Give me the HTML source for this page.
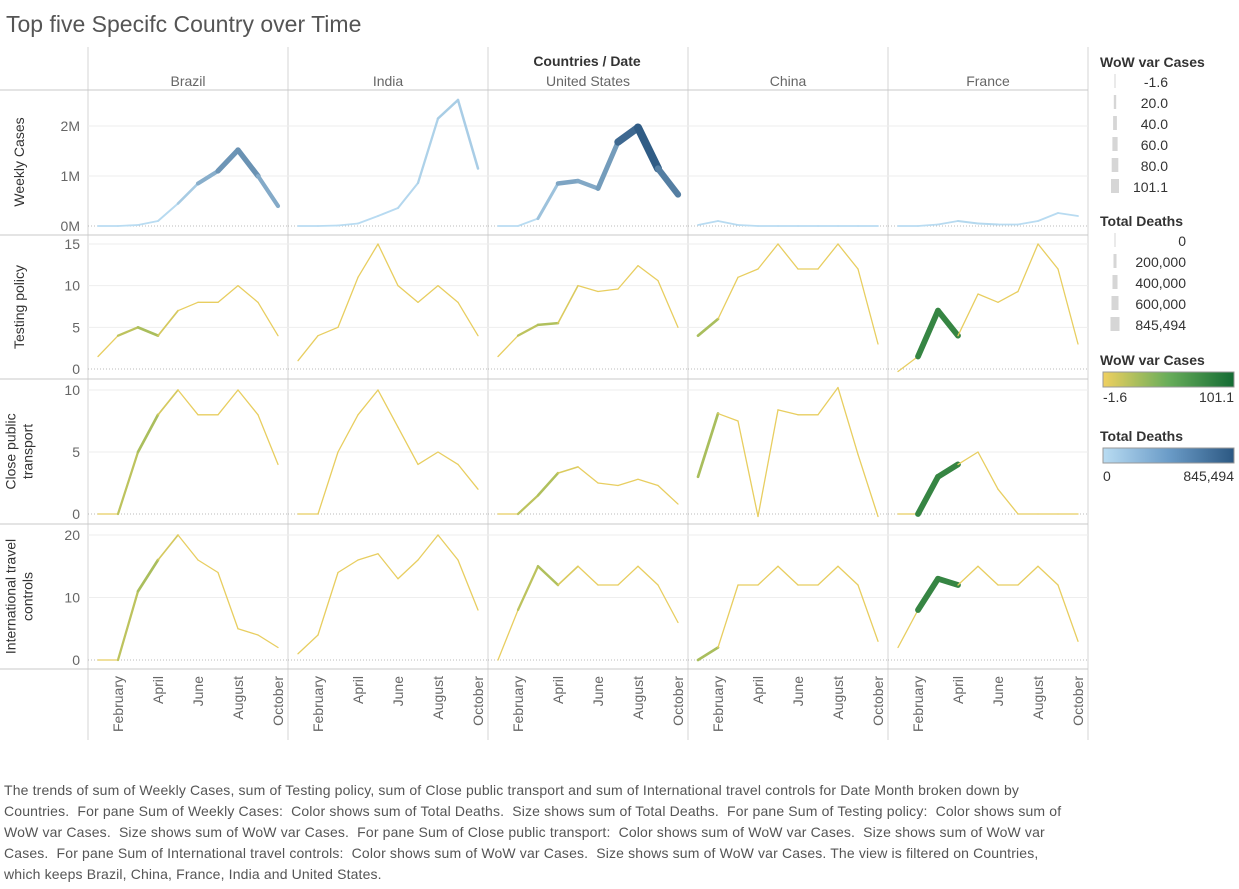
<!DOCTYPE html>
<html><head><meta charset="utf-8">
<style>
body{margin:0;background:#fff;width:1239px;height:884px;overflow:hidden;font-family:"Liberation Sans",sans-serif;}
svg text{font-family:"Liberation Sans",sans-serif;}
</style></head>
<body>
<svg id="chart" width="1239" height="884">
<text x="6" y="32" font-size="23" fill="#555">Top five Specifc Country over Time</text>
<text x="587" y="66" font-size="14" font-weight="bold" fill="#333" text-anchor="middle">Countries  /  Date</text>
<g id="grid"></g>
<g id="marks"></g>
<g id="legend">
  <text x="1100" y="67" font-size="14" font-weight="bold" fill="#333">WoW var Cases</text>
  <text x="1100" y="226" font-size="14" font-weight="bold" fill="#333">Total Deaths</text>
  <text x="1100" y="365" font-size="14" font-weight="bold" fill="#333">WoW var Cases</text>
  <defs>
    <linearGradient id="gy"><stop offset="0" stop-color="#f0d060"/><stop offset="0.5" stop-color="#68ad5a"/><stop offset="1" stop-color="#146b34"/></linearGradient>
    <linearGradient id="gb"><stop offset="0" stop-color="#b9dcf2"/><stop offset="0.5" stop-color="#6b9cc8"/><stop offset="1" stop-color="#2c5882"/></linearGradient>
  </defs>
  <rect x="1103" y="372" width="131" height="15" fill="url(#gy)" stroke="#999"/>
  <text x="1103" y="402" font-size="14" fill="#333">-1.6</text>
  <text x="1234" y="402" font-size="14" fill="#333" text-anchor="end">101.1</text>
  <text x="1100" y="441" font-size="14" font-weight="bold" fill="#333">Total Deaths</text>
  <rect x="1103" y="448" width="131" height="15" fill="url(#gb)" stroke="#999"/>
  <text x="1103" y="481" font-size="14" fill="#333">0</text>
  <text x="1234" y="481" font-size="14" fill="#333" text-anchor="end">845,494</text>
</g>
</svg>
<div style="position:absolute;left:4px;top:780px;width:1068px;font-size:14px;letter-spacing:0.15px;line-height:21px;color:#555;">The trends of sum of Weekly Cases, sum of Testing policy, sum of Close public transport and sum of International travel controls for Date Month broken down by Countries.&nbsp; For pane Sum of Weekly Cases:&nbsp; Color shows sum of Total Deaths.&nbsp; Size shows sum of Total Deaths.&nbsp; For pane Sum of Testing policy:&nbsp; Color shows sum of WoW var Cases.&nbsp; Size shows sum of WoW var Cases.&nbsp; For pane Sum of Close public transport:&nbsp; Color shows sum of WoW var Cases.&nbsp; Size shows sum of WoW var Cases.&nbsp; For pane Sum of International travel controls:&nbsp; Color shows sum of WoW var Cases.&nbsp; Size shows sum of WoW var Cases. The view is filtered on Countries, which keeps Brazil, China, France, India and United States.</div>
<script>
const countries=["Brazil","India","United States","China","France"];
const monthLabels=["February","April","June","August","October"];
const monthIdx=[1,3,5,7,9];
const cases={Brazil:[0,0,0.02,0.1,0.45,0.85,1.1,1.52,1.0,0.4],India:[0,0,0.01,0.05,0.2,0.36,0.86,2.15,2.52,1.15],"United States":[0,0,0.15,0.85,0.9,0.75,1.68,1.97,1.15,0.63],China:[0.02,0.1,0.02,0,0,0,0,0,0,0],France:[0,0,0.03,0.1,0.05,0.03,0.03,0.1,0.26,0.2]};
const deaths={Brazil:[0,0,0,1000,20000,180000,350000,480000,380000,200000],India:[0,0,0,1000,5000,15000,40000,80000,100000,70000],"United States":[0,0,100,300000,350000,250000,500000,845494,650000,450000],China:[1000,5000,3000,100,0,0,0,0,0,0],France:[0,0,2000,20000,30000,10000,2000,2000,5000,8000]};
const testing={Brazil:[1.5,4,5,4,7,8,8,10,8,4],India:[1,4,5,11,15,10,8,10,8,4],"United States":[1.5,4,5.3,5.5,10,9.3,9.6,12.4,10.6,5],China:[4,6,11,12,15,12,12,15,12,3],France:[-0.3,1.5,7,4,9,8,9.3,15,12,3]};
const transport={Brazil:[0,0,5,8,10,8,8,10,8,4],India:[0,0,5,8,10,7,4,5,4,2],"United States":[0,0,1.5,3.3,3.8,2.5,2.3,2.8,2.3,0.8],China:[3,8.1,7.5,-0.2,8.4,8,8,10.2,4.8,-0.2],France:[0,0,3,4,5,2,0,0,0,0]};
const travel={Brazil:[0,0,11,16,20,16,14,5,4,2],India:[1,4,14,16,17,13,16,20,16,8],"United States":[0,8,15,12,15,12,12,15,12,6],China:[0,2,12,12,15,12,12,15,12,3],France:[2,8,13,12,15,12,12,15,12,3]};
const wow={Brazil:[-1.6,-1.6,20,8,-1.6,-1.6,-1.6,-1.6,-1.6,-1.6],India:[-1.6,-1.6,-1.6,-1.6,-1.6,-1.6,-1.6,-1.6,-1.6,-1.6],"United States":[-1.6,-1.6,20,5,-1.6,-1.6,-1.6,-1.6,-1.6,-1.6],China:[30,-1.6,-1.6,-1.6,-1.6,-1.6,-1.6,-1.6,-1.6,-1.6],France:[-1.6,-1.6,101.1,-1.6,-1.6,-1.6,-1.6,-1.6,-1.6,-1.6]};
const rowNames=["Weekly Cases","Testing policy","Close public transport","International travel controls"];
const rowTicks=[[0,1,2],[0,5,10,15],[0,5,10],[0,10,20]];
const rowTickLabels=[["0M","1M","2M"],["0","5","10","15"],["0","5","10"],["0","10","20"]];

const NS="http://www.w3.org/2000/svg";
const svg=document.getElementById("chart"),grid=document.getElementById("grid"),marks=document.getElementById("marks");
function el(t,a,p){const e=document.createElementNS(NS,t);for(const k in a)e.setAttribute(k,a[k]);(p||grid).appendChild(e);return e;}
const colX0=88,colW=200;
const rows=[{top:90,bot:234,y0:226,y1:126,v1:2},{top:236,bot:378,y0:369,y1:244,v1:15},{top:380,bot:523,y0:514,y1:390,v1:10},{top:525,bot:668,y0:660,y1:535,v1:20}];
function xScale(c,i){return colX0+c*colW+10+i*20;}
function yScale(r,v){const R=rows[r];return R.y0+(R.y1-R.y0)*v/R.v1;}
function lerp(a,b,t){return Math.round(a+(b-a)*t);}
function blue(t){const a=[185,220,242],b=[44,88,130];return `rgb(${lerp(a[0],b[0],t)},${lerp(a[1],b[1],t)},${lerp(a[2],b[2],t)})`;}
function green(t){let a,b,u;if(t<0.5){a=[232,206,96];b=[104,173,90];u=t*2}else{a=[104,173,90];b=[20,107,52];u=(t-0.5)*2}return `rgb(${lerp(a[0],b[0],u)},${lerp(a[1],b[1],u)},${lerp(a[2],b[2],u)})`;}

for(let c=0;c<=5;c++){const l=el("line",{x1:colX0+c*colW,y1:47,x2:colX0+c*colW,y2:740,stroke:"#d4d4d4"});

}
el("line",{x1:0,y1:90,x2:1088,y2:90,stroke:"#c8c8c8"});
countries.forEach((n,c)=>{const t=el("text",{x:colX0+c*colW+100,y:86,"font-size":14,fill:"#666","text-anchor":"middle"});t.textContent=n;

});
rows.forEach((R,r)=>{
  el("line",{x1:0,y1:R.bot+1,x2:1088,y2:R.bot+1,stroke:"#c8c8c8"});
  rowTicks[r].forEach((v,k)=>{const y=yScale(r,v);
    for(let c=0;c<5;c++){el("line",{x1:colX0+c*colW,x2:colX0+(c+1)*colW,y1:y,y2:y,stroke:v===0?"#bbb":"#eee","stroke-dasharray":v===0?"1,2":"none"});}
    const t=el("text",{x:80,y:y+5,"font-size":14,fill:"#666","text-anchor":"end"});t.textContent=rowTickLabels[r][k];
    
    });
  const cy=(R.top+R.bot)/2;const words=rowNames[r];
  const lines=r===2?["Close public","transport"]:r===3?["International travel","controls"]:[words];
  lines.forEach((s,i)=>{const x=24+(i-(lines.length-1)/2)*17;const t=el("text",{x:x,y:cy,"font-size":14,fill:"#333","text-anchor":"middle",transform:`rotate(-90 ${x} ${cy})`});t.textContent=s;
  
  });
});
countries.forEach((n,c)=>monthIdx.forEach((m,k)=>{const x=xScale(c,m)+5,y=676;const t=el("text",{x:x,y:y,"font-size":14,fill:"#666","text-anchor":"end",transform:`rotate(-90 ${x} ${y})`});t.textContent=monthLabels[k];

}));
const series=[cases,testing,transport,travel];
countries.forEach((n,c)=>{series.forEach((S,r)=>{const v=S[n];
  for(let i=0;i<v.length-1;i++){let col,w;
    if(r===0){const t=(deaths[n][i]+deaths[n][i+1])/2/845494;col=blue(Math.min(1,t*1.1));w=1.8+7*t;}
    else{const t=((wow[n][i]+wow[n][i+1])/2+1.6)/102.7;col=green(Math.min(1,t*1.6));w=1.3+9*t;}
    const l=el("line",{x1:xScale(c,i),y1:yScale(r,v[i]),x2:xScale(c,i+1),y2:yScale(r,v[i+1]),stroke:col,"stroke-width":w,"stroke-linecap":"round"},marks);
    
    }
});});
const wowLabels=["-1.6","20.0","40.0","60.0","80.0","101.1"];
wowLabels.forEach((s,i)=>{const y=82+i*21;const w=1+i*1.4;
  const r=el("rect",{x:1115-w/2,y:y-8,width:w,height:14,fill:"#d6d6d6"},document.getElementById("legend"));
  
  const t=el("text",{x:1168,y:y+5,"font-size":14,fill:"#333","text-anchor":"end"},document.getElementById("legend"));t.textContent=s;
  });
const dLabels=["0","200,000","400,000","600,000","845,494"];
dLabels.forEach((s,i)=>{const y=241+i*21;const w=1+i*2;
  const r=el("rect",{x:1115-w/2,y:y-8,width:w,height:14,fill:"#d6d6d6"},document.getElementById("legend"));
  
  const t=el("text",{x:1186,y:y+5,"font-size":14,fill:"#333","text-anchor":"end"},document.getElementById("legend"));t.textContent=s;
  });
</script>
</body></html>
